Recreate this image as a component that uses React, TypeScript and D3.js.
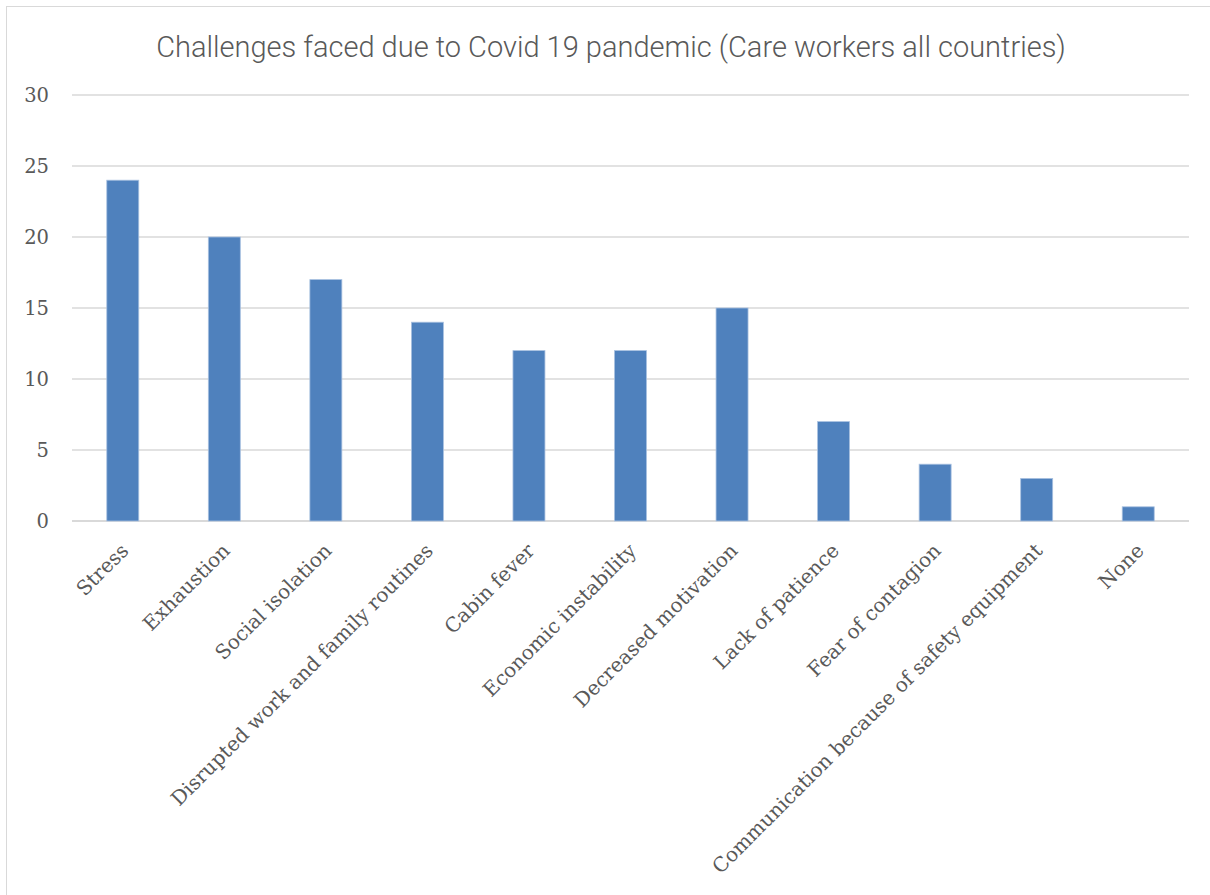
import React from "react";
import * as d3 from "d3";

const categories = [
  "Stress",
  "Exhaustion",
  "Social isolation",
  "Disrupted work and family routines",
  "Cabin fever",
  "Economic instability",
  "Decreased motivation",
  "Lack of patience",
  "Fear of contagion",
  "Communication because of safety equipment",
  "None",
];
const values = [24, 20, 17, 14, 12, 12, 15, 7, 4, 3, 1];
const yTicks = [0, 5, 10, 15, 20, 25, 30];
const title = "Challenges faced due to Covid 19 pandemic (Care workers all countries)";

const W = 1210;
const H = 895;
const left = 72;
const right = 1189;
const top = 95;
const bottom = 521;

export default function App() {
  const x = d3.scaleBand<string>().domain(categories).range([left, right]).paddingInner(0.685).paddingOuter(0.3425);
  const y = d3.scaleLinear().domain([0, 30]).range([bottom, top]);
  const serif = "'DejaVu Serif', serif";
  return (
    <svg width={W} height={H} style={{ position: "absolute", left: 0, top: 0, background: "#fff" }}>
      <rect x={6.5} y={6.5} width={W + 20} height={H + 20} fill="#fff" stroke="#d9d9d9" strokeWidth={1} />
      <text x={611} y={57} textAnchor="middle" fontFamily="Roboto, 'Open Sans', sans-serif" fontWeight={300} fontSize={29} fill="#595959">
        {title}
      </text>
      {yTicks.map((t) => (
        <g key={t}>
          <line x1={left} x2={right} y1={y(t)} y2={y(t)} stroke="#d9d9d9" strokeWidth={t === 0 ? 2 : 1.3} />
          <text x={49} y={y(t)} dy="0.35em" textAnchor="end" fontFamily={serif} fontSize={19.5} fill="#595959">
            {t}
          </text>
        </g>
      ))}
      {categories.map((c, i) => (
        <rect key={c} x={x(c)} y={y(values[i])} width={x.bandwidth()} height={y(0) - y(values[i])} fill="#4F81BD" stroke="#a9c1e0" strokeWidth={0.8} />
      ))}
      {categories.map((c) => {
        const cx = (x(c) as number) + x.bandwidth() / 2;
        return (
          <text key={c} transform={`translate(${cx - 3},${542}) rotate(-45)`} textAnchor="end" dy="0.7em" fontFamily={serif} fontSize={20} fill="#595959">
            {c}
          </text>
        );
      })}
    </svg>
  );
}
